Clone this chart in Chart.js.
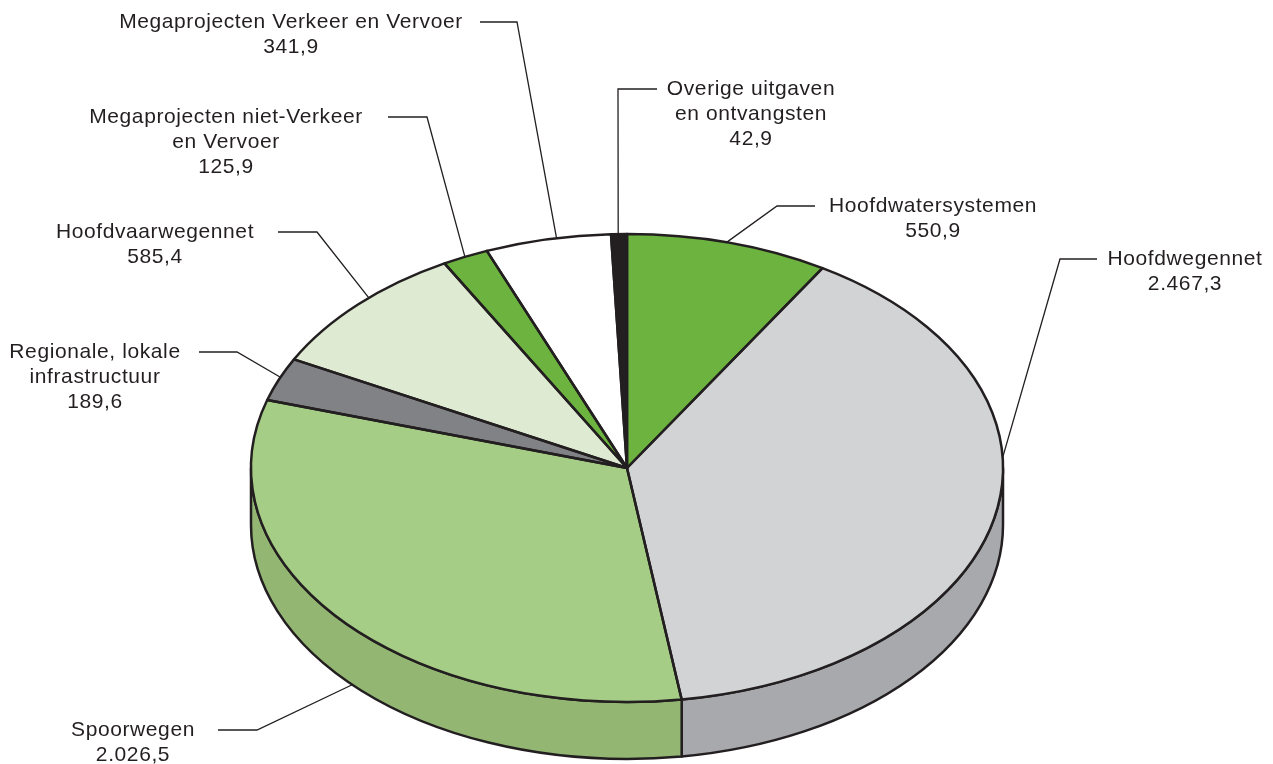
<!DOCTYPE html>
<html>
<head>
<meta charset="utf-8">
<title>Uitgaven Infrastructuurfonds</title>
<script src="https://cdn.jsdelivr.net/npm/chart.js@4.4.1/dist/chart.umd.min.js"></script>
<style>
    html, body { margin: 0; padding: 0; background: #ffffff; }
    #wrap { width: 1273px; height: 764px; position: relative; }
</style>
</head>
<body>
<div id="wrap"><canvas id="pie-chart" width="1273" height="764"></canvas></div>
<script>
// categories, clockwise from 12 o'clock
const categories = [
    ["Hoofdwatersystemen"],
    ["Hoofdwegennet"],
    ["Spoorwegen"],
    ["Regionale, lokale", "infrastructuur"],
    ["Hoofdvaarwegennet"],
    ["Megaprojecten niet-Verkeer", "en Vervoer"],
    ["Megaprojecten Verkeer en Vervoer"],
    ["Overige uitgaven", "en ontvangsten"]
];
const amounts = [550.9, 2467.3, 2026.5, 189.6, 585.4, 125.9, 341.9, 42.9];

const topColors  = ['#6db33f', '#d1d3d4', '#a6cd86', '#808285', '#deebd2', '#6db33f', '#ffffff', '#231f20'];
const sideColors = ['#5c9a34', '#a7a9ac', '#93b773', '#6a6c6f', '#c4d3b6', '#5c9a34', '#e6e6e6', '#111111'];

// ellipse placement of the tilted pie
const CX = 627, CY = 468, RADIUS = 376, TILT = 234 / 376, DEPTH = 57;
const INK = '#231f20';

// label placement: text centre, y of first line, leader start and elbow,
// where along the slice the leader touches, and whether it touches the base
const labelLayout = [
    { x: 933,  y: 206, from: 815,  elbow: [777, 206],  frac: 0.49 },
    { x: 1185, y: 259, from: 1097, elbow: [1060, 259], frac: 0.40 },
    { x: 133,  y: 730, from: 218,  elbow: [257, 730],  frac: 0.48, base: true },
    { x: 95,   y: 352, from: 199,  elbow: [237, 352],  frac: 0.55 },
    { x: 155,  y: 232, from: 278,  elbow: [317, 232],  frac: 0.57 },
    { x: 226,  y: 117, from: 388,  elbow: [427, 117],  frac: 0.49 },
    { x: 291,  y: 22,  from: 480,  elbow: [517, 22],   frac: 0.57 },
    { x: 751,  y: 89,  from: 657,  elbow: [618, 89],   frac: 0.45 }
];

function formatNL(v) {
    let parts = v.toFixed(1).split('.');
    let whole = parts[0].replace(/\B(?=(\d{3})+(?!\d))/g, '.');
    return whole + ',' + parts[1];
}

function pointOn(angle, r, drop) {
    return [CX + r * Math.cos(angle), CY + TILT * r * Math.sin(angle) + (drop || 0)];
}

const tiltPlugin = {
    id: 'tilt',
    beforeDatasetsDraw(chart) {
        const ctx = chart.ctx;
        const arcs = chart.getDatasetMeta(0).data;

        // --- side wall (only the front half, angles 0..PI) ---
        arcs.forEach((arc, i) => {
            let lo = Math.max(arc.startAngle, 0);
            let hi = Math.min(arc.endAngle, Math.PI);
            if (hi <= lo) return;
            let r = arc.outerRadius;
            ctx.save();
            ctx.beginPath();
            ctx.ellipse(CX, CY, r, r * TILT, 0, lo, hi);
            ctx.ellipse(CX, CY + DEPTH, r, r * TILT, 0, hi, lo, true);
            ctx.closePath();
            ctx.fillStyle = sideColors[i];
            ctx.fill();
            ctx.lineWidth = 2.5;
            ctx.lineJoin = 'round';
            ctx.strokeStyle = INK;
            ctx.stroke();
            ctx.restore();
        });

        // --- squash the top face ---
        const a = arcs[0];
        ctx.save();
        ctx.translate(CX, CY);
        ctx.scale(1, TILT);
        ctx.translate(-a.x, -a.y);
    },
    afterDatasetsDraw(chart) {
        const ctx = chart.ctx;
        ctx.restore();
        const arcs = chart.getDatasetMeta(0).data;

        // slice outlines in screen space so the line weight stays even
        ctx.save();
        ctx.lineWidth = 2.5;
        ctx.lineJoin = 'round';
        ctx.strokeStyle = INK;
        arcs.forEach(arc => {
            let r = arc.outerRadius;
            ctx.beginPath();
            ctx.moveTo(CX, CY);
            ctx.ellipse(CX, CY, r, r * TILT, 0, arc.startAngle, arc.endAngle);
            ctx.closePath();
            ctx.stroke();
        });
        ctx.restore();

        // labels + leader lines
        ctx.save();
        ctx.font = '21px "Liberation Sans", Arial, sans-serif';
        ctx.letterSpacing = '0.6px';
        ctx.fillStyle = INK;
        ctx.textAlign = 'center';
        ctx.textBaseline = 'middle';
        ctx.strokeStyle = INK;
        ctx.lineWidth = 1.3;
        arcs.forEach((arc, i) => {
            const lay = labelLayout[i];
            const lines = categories[i].concat([formatNL(amounts[i])]);
            lines.forEach((t, j) => ctx.fillText(t, lay.x, lay.y + j * 25));

            const ang = arc.startAngle + (arc.endAngle - arc.startAngle) * lay.frac;
            const p = pointOn(ang, arc.outerRadius, lay.base ? DEPTH : 0);
            ctx.beginPath();
            ctx.moveTo(lay.from, lay.elbow[1]);
            ctx.lineTo(lay.elbow[0], lay.elbow[1]);
            ctx.lineTo(p[0], p[1]);
            ctx.stroke();
        });
        ctx.restore();
    }
};

const ctx = document.getElementById('pie-chart').getContext('2d');
new Chart(ctx, {
    type: 'pie',
    data: {
        labels: categories.map(c => c.join(' ')),
        datasets: [{
            data: amounts,
            backgroundColor: topColors,
            borderWidth: 0,
            radius: RADIUS,
            clip: false
        }]
    },
    options: {
        responsive: false,
        animation: false,
        events: [],
        plugins: { legend: { display: false }, tooltip: { enabled: false } }
    },
    plugins: [tiltPlugin]
});
</script>
</body>
</html>
